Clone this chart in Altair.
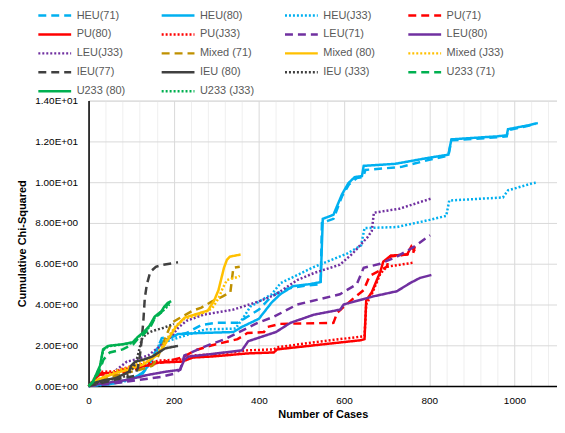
import altair as alt
import pandas as pd

SERIES = ["HEU(71)", "HEU(80)", "HEU(J33)", "PU(71)", "PU(80)", "PU(J33)",
          "LEU(71)", "LEU(80)", "LEU(J33)", "Mixed (71)", "Mixed (80)", "Mixed (J33)",
          "IEU(77)", "IEU (80)", "IEU (J33)", "U233 (71)", "U233 (80)", "U233 (J33)"]
COLORS = ["#00B0F0", "#00B0F0", "#00B0F0", "#FF0000", "#FF0000", "#FF0000",
          "#7030A0", "#7030A0", "#7030A0", "#BF9000", "#FFC000", "#FFC000",
          "#404040", "#404040", "#404040", "#00B050", "#00B050", "#00B050"]
DASHED = [8, 5]
SOLID = [1, 0]
DOTTED = [2, 2]
DASHES = [DASHED, SOLID, DOTTED] * 6

HEU71_X = [0, 50, 100, 130, 150, 165, 172, 200, 230, 265, 300, 350, 373, 400, 430, 460, 500, 545, 548, 575, 595, 612, 630, 645, 650, 735, 800, 845, 852, 960, 982, 985, 1030, 1050]
HEU71_Y = [0, 0.1, 0.3, 0.7, 1.4, 2.0, 2.35, 2.45, 2.6, 3.0, 3.1, 3.1, 3.4, 3.75, 4.4, 4.75, 4.9, 5.0, 8.0, 8.2, 9.3, 9.9, 10.2, 10.25, 10.6, 10.75, 11.1, 11.3, 12.05, 12.2, 12.25, 12.55, 12.75, 12.85]
HEU80_X = [0, 50, 100, 125, 140, 155, 165, 175, 210, 260, 340, 360, 400, 430, 450, 480, 520, 545, 550, 575, 595, 610, 625, 642, 646, 720, 800, 845, 852, 960, 982, 985, 1030, 1055]
HEU80_Y = [0, 0.1, 0.35, 0.6, 1.0, 1.5, 1.9, 2.2, 2.55, 2.6, 2.65, 2.9, 3.3, 4.1, 4.5, 4.9, 5.0, 5.1, 8.2, 8.4, 9.4, 9.95, 10.25, 10.3, 10.8, 10.9, 11.2, 11.35, 12.1, 12.25, 12.3, 12.6, 12.78, 12.9]
HEUJ33_X = [0, 50, 100, 125, 140, 155, 168, 200, 245, 275, 345, 365, 380, 430, 451, 530, 607, 640, 648, 724, 801, 840, 847, 973, 985, 1043, 1050]
HEUJ33_Y = [0, 0.1, 0.3, 0.55, 1.0, 1.6, 2.1, 2.3, 2.6, 2.78, 2.82, 3.4, 3.9, 4.5, 5.05, 5.85, 6.5, 6.9, 7.75, 7.8, 8.15, 8.35, 9.1, 9.25, 9.6, 9.95, 9.97]

PU71_X = [0, 15, 25, 60, 90, 120, 150, 180, 220, 250, 290, 350, 373, 412, 420, 450, 575, 584, 600, 622, 646, 660, 700, 708, 762, 766]
PU71_Y = [0, 0.3, 0.55, 0.6, 0.7, 0.9, 1.05, 1.2, 1.4, 1.75, 2.0, 2.3, 2.6, 2.65, 2.9, 3.05, 3.1, 3.6, 3.9, 4.3, 4.7, 5.4, 5.85, 6.35, 6.5, 6.85]
PU80_X = [0, 15, 25, 60, 80, 105, 135, 165, 220, 245, 290, 373, 435, 443, 530, 640, 648, 652, 665, 685, 692, 710, 748, 758, 766]
PU80_Y = [0, 0.3, 0.62, 0.65, 0.8, 0.9, 1.0, 1.15, 1.2, 1.4, 1.45, 1.6, 1.65, 1.8, 2.0, 2.25, 2.3, 4.2, 4.6, 5.6, 6.1, 6.4, 6.45, 6.85, 6.6]
PUJ33_X = [0, 15, 25, 60, 80, 105, 135, 165, 220, 245, 290, 373, 435, 443, 530, 630, 648, 652, 665, 685, 700, 762]
PUJ33_Y = [0, 0.4, 0.7, 0.72, 0.85, 1.0, 1.1, 1.25, 1.3, 1.5, 1.55, 1.75, 1.8, 1.9, 2.15, 2.4, 2.45, 4.0, 4.5, 5.5, 5.85, 6.05]

LEU71_X = [0, 50, 100, 170, 200, 215, 225, 280, 320, 373, 397, 435, 490, 590, 630, 646, 685, 724, 762, 802]
LEU71_Y = [0, 0.1, 0.25, 0.45, 0.6, 0.8, 1.5, 2.0, 2.3, 2.85, 3.1, 3.4, 4.0, 4.5, 5.0, 5.8, 6.0, 6.35, 6.8, 7.4]
LEU80_X = [0, 25, 90, 140, 180, 215, 225, 235, 280, 360, 375, 440, 474, 529, 591, 599, 669, 724, 755, 778, 805]
LEU80_Y = [0, 0.1, 0.3, 0.55, 0.7, 0.8, 1.3, 1.45, 1.55, 1.75, 2.2, 2.65, 3.1, 3.5, 3.75, 4.0, 4.4, 4.65, 5.05, 5.3, 5.45]
LEUJ33_X = [0, 30, 60, 90, 110, 140, 170, 195, 210, 230, 270, 340, 400, 440, 490, 530, 590, 620, 655, 665, 670, 730, 805]
LEUJ33_Y = [0, 0.3, 0.7, 1.2, 1.3, 1.5, 2.0, 2.45, 2.85, 3.2, 3.5, 3.75, 4.15, 4.5, 5.2, 5.55, 5.95, 6.5, 7.3, 7.6, 8.5, 8.7, 9.2]

MIX71_X = [0, 30, 80, 120, 150, 160, 170, 185, 195, 215, 245, 265, 290, 315, 333, 340, 355]
MIX71_Y = [0, 0.3, 0.6, 0.8, 1.0, 1.3, 1.8, 2.6, 3.1, 3.35, 3.7, 3.85, 4.15, 4.4, 4.6, 5.8, 5.85]
MIX80_X = [0, 20, 65, 100, 128, 160, 175, 190, 205, 225, 256, 280, 295, 305, 318, 325, 332, 357]
MIX80_Y = [0, 0.3, 0.65, 0.85, 1.05, 1.5, 1.9, 2.4, 2.9, 3.35, 3.55, 3.7, 4.2, 4.7, 5.8, 6.2, 6.35, 6.45]
MIXJ33_X = [0, 20, 65, 100, 130, 160, 175, 190, 205, 225, 260, 290, 305, 315, 325, 350, 355]
MIXJ33_Y = [0, 0.3, 0.75, 0.95, 1.2, 1.6, 2.0, 2.5, 2.95, 3.3, 3.5, 3.8, 4.3, 4.8, 5.2, 5.35, 5.4]

IEU77_X = [0, 30, 70, 108, 116, 120, 125, 129, 132, 137, 145, 158, 175, 198, 210]
IEU77_Y = [0, 0.15, 0.35, 0.5, 0.9, 1.4, 2.3, 3.3, 4.3, 5.0, 5.6, 5.85, 5.95, 6.03, 6.07]
IEU80_X = [0, 10, 40, 65, 80, 95, 100, 110, 130, 150, 165, 180, 210]
IEU80_Y = [0, 0.15, 0.3, 0.4, 0.55, 0.7, 1.0, 1.2, 1.3, 1.45, 1.65, 1.85, 1.97]
IEUJ33_X = [0, 30, 60, 90, 105, 112, 118, 125, 135, 150, 175, 200]
IEUJ33_Y = [0, 0.2, 0.35, 0.5, 0.9, 1.2, 1.7, 2.3, 2.55, 2.7, 2.85, 3.05]

U71_X = [0, 10, 25, 35, 50, 80, 105, 115, 130, 145, 155, 170, 180, 190]
U71_Y = [0, 0.2, 0.7, 1.3, 1.65, 1.8, 2.05, 2.3, 2.55, 2.9, 3.3, 3.6, 3.85, 4.1]
U80_X = [0, 10, 27, 34, 46, 80, 104, 115, 128, 143, 155, 171, 178, 186, 194]
U80_Y = [0, 0.2, 1.0, 1.8, 1.97, 2.05, 2.15, 2.4, 2.62, 2.95, 3.4, 3.67, 3.9, 4.08, 4.16]
UJ33_X = [0, 10, 27, 34, 46, 80, 104, 115, 128, 143, 155, 170, 180, 190]
UJ33_Y = [0, 0.2, 0.95, 1.75, 1.95, 2.05, 2.1, 2.35, 2.6, 2.9, 3.35, 3.6, 3.8, 4.0]

X_TICKS = list(range(0, 1100, 40))
Y_TICKS = list(range(0, 15, 2))

PAIRS = [(HEU71_X, HEU71_Y), (HEU80_X, HEU80_Y), (HEUJ33_X, HEUJ33_Y),
         (PU71_X, PU71_Y), (PU80_X, PU80_Y), (PUJ33_X, PUJ33_Y),
         (LEU71_X, LEU71_Y), (LEU80_X, LEU80_Y), (LEUJ33_X, LEUJ33_Y),
         (MIX71_X, MIX71_Y), (MIX80_X, MIX80_Y), (MIXJ33_X, MIXJ33_Y),
         (IEU77_X, IEU77_Y), (IEU80_X, IEU80_Y), (IEUJ33_X, IEUJ33_Y),
         (U71_X, U71_Y), (U80_X, U80_Y), (UJ33_X, UJ33_Y)]

rows = []
for name, (xs, ys) in zip(SERIES, PAIRS):
    for i, (xv, yv) in enumerate(zip(xs, ys)):
        rows.append({"series": name, "cases": xv, "chi": yv, "i": i})
df = pd.DataFrame(rows)

FONT = "Liberation Sans"
GRAY = "#595959"


def make_legend():
    return alt.Legend(title=None, orient="none", legendX=-52, legendY=-92,
                      direction="horizontal", columns=4, symbolType="stroke",
                      symbolSize=1089, symbolStrokeWidth=2.5, clipHeight=13,
                      rowPadding=6, columnPadding=26, gridAlign="all", labelOffset=4,
                      labelFontSize=11, labelColor=GRAY, labelFont=FONT, padding=0)


chart = alt.Chart(df).mark_line(strokeWidth=2.5).encode(
    x=alt.X("cases:Q", scale=alt.Scale(domain=[0, 1100], nice=False),
            axis=alt.Axis(values=X_TICKS, title="Number of Cases", format="d",
                          labelExpr="datum.value % 200 === 0 ? datum.label : ''",
                          gridColor={"condition": {"test": "datum.value % 200 === 0", "value": "#d9d9d9"}, "value": "#efefef"},
                          ticks=False, tickSize=0, labelPadding=10, labelOverlap=False, labelFlush=False,
                          domainColor="#000000", domainWidth=1.5, titlePadding=3)),
    y=alt.Y("chi:Q", scale=alt.Scale(domain=[0, 14], nice=False),
            axis=alt.Axis(values=Y_TICKS, title="Cumulative Chi-Squared",
                          labelExpr="datum.value >= 10 ? format(datum.value / 10, '.2f') + 'E+01' : format(datum.value, '.2f') + 'E+00'",
                          gridColor="#d9d9d9", ticks=False, tickSize=0, labelPadding=11,
                          domainColor="#000000", domainWidth=1.5, titlePadding=7)),
    color=alt.Color("series:N", scale=alt.Scale(domain=SERIES, range=COLORS),
                    sort=SERIES, legend=make_legend()),
    strokeDash=alt.StrokeDash("series:N", scale=alt.Scale(domain=SERIES, range=DASHES),
                              sort=SERIES, legend=make_legend()),
    order="i:Q",
).properties(
    width=471, height=287,
    padding={"left": 8, "top": 0, "right": 0, "bottom": 0},
).configure_view(stroke=None).configure_axis(
    labelFont=FONT, labelFontSize=11, labelColor=GRAY,
    titleFont=FONT, titleFontSize=11.5, titleColor=GRAY, titleFontWeight="bold",
).configure(background="white")

chart.save("out.html", embed_options={"renderer": "svg", "actions": False})
